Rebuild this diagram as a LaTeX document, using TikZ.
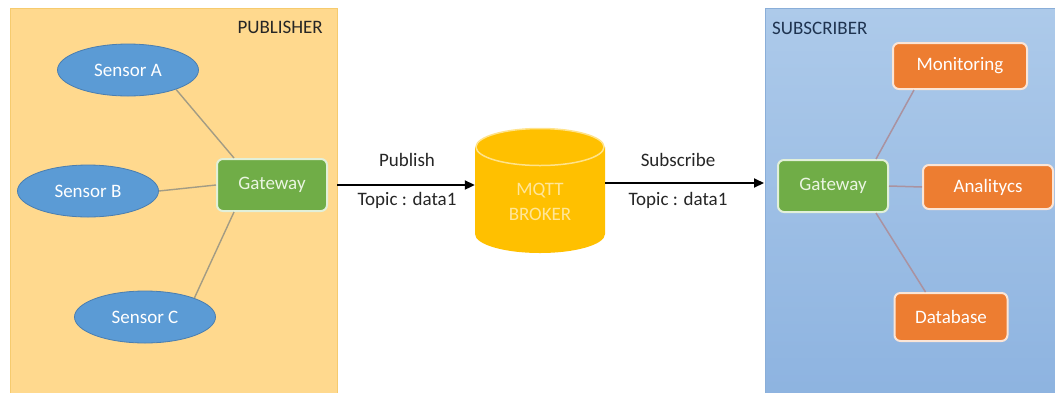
\documentclass[tikz,border=0pt]{standalone}
\usepackage{fontspec}
\setmainfont{Carlito}
\usetikzlibrary{calc,arrows.meta,shapes.geometric}

\definecolor{pubfill}{HTML}{FFD98E}
\definecolor{pubedge}{HTML}{F6CB6E}
\definecolor{subtop}{HTML}{ADCAEA}
\definecolor{subbot}{HTML}{8DB3E0}
\definecolor{subedge}{HTML}{8AAED8}
\definecolor{sensorfill}{HTML}{5B9BD5}
\definecolor{sensoredge}{HTML}{4A7EB0}
\definecolor{gwfill}{HTML}{70AD47}
\definecolor{gwedge}{HTML}{E2F0D9}
\definecolor{gwtext}{HTML}{EAF5E2}
\definecolor{appfill}{HTML}{ED7D31}
\definecolor{appedge}{HTML}{FBE5D6}
\definecolor{brokerfill}{HTML}{FFC000}
\definecolor{brokeredge}{HTML}{FFE38A}
\definecolor{brokertext}{HTML}{FFE699}
\definecolor{publink}{HTML}{A39C84}
\definecolor{sublink}{HTML}{AA92A0}
\definecolor{labeltext}{HTML}{262626}
\definecolor{subtitle}{HTML}{1F3350}

\begin{document}
\begin{tikzpicture}[x=1pt, y=-1pt,
  font=\fontsize{19}{23}\selectfont,
  sensor/.style={ellipse, fill=sensorfill, draw=sensoredge, line width=0.8pt,
    minimum width=141pt, minimum height=52pt, text=white, inner sep=0pt},
  gateway/.style={rectangle, rounded corners=6pt, fill=gwfill, draw=gwedge,
    line width=2pt, minimum width=110pt, minimum height=52pt, text=gwtext, inner sep=0pt},
  app/.style={rectangle, rounded corners=6pt, fill=appfill, draw=appedge,
    line width=2pt, minimum height=46pt, text=white, inner sep=0pt},
  toplabel/.style={text=labeltext, inner sep=0pt},
  publine/.style={draw=publink, line width=1.4pt},
  subline/.style={draw=sublink, line width=1.5pt},
  flow/.style={draw=black, line width=2pt, -{Triangle[length=10pt,width=9pt]}}]

  \useasboundingbox (0,0) rectangle (1055,392);
  \fill[white] (0,0) rectangle (1055,392);

  % publisher and subscriber areas
  \draw[fill=pubfill, draw=pubedge, line width=1pt] (10,8) rectangle (337,400);
  \shade[top color=subtop, bottom color=subbot] (765,8) rectangle (1062,400);
  \draw[draw=subedge, line width=1pt] (1062,8) -- (765,8) -- (765,400);
  \node[toplabel, anchor=east] (pubtitle) at (323,27) {PUBLISHER};
  \node[toplabel, text=subtitle, anchor=west] (subtitle) at (772,28) {SUBSCRIBER};

  % publisher side
  \node[sensor] (sa) at (128,70) {Sensor A};
  \node[sensor] (sb) at (88,191) {Sensor B};
  \node[sensor] (sc) at (145,317) {Sensor C};
  \node[gateway] (pgw) at (272,185) {Gateway};

  \draw[publine] (sa.-22) -- ($(pgw.north west)+(18,0)$);
  \draw[publine] (sb.east) -- (pgw.west);
  \draw[publine] (sc.21) -- ($(pgw.south west)+(18,0)$);

  % broker cylinder
  \fill[brokerfill] (475,147) -- (475,234)
    arc[start angle=180, end angle=0, x radius=65, y radius=19]
    -- (605,147) -- cycle;
  \draw[fill=brokerfill, draw=brokeredge, line width=1.5pt]
    (540,147) ellipse[x radius=64, y radius=18.5];
  \node[minimum width=130pt, minimum height=125pt, inner sep=0pt] (broker) at (540,190.5) {};
  \node[text=brokertext, align=center, inner sep=0pt] (brokerlabel) at (540,202)
    {MQTT\\[2pt]BROKER};

  % publish / subscribe flows
  \draw[flow, shorten <=9pt] (pgw.east) -- (pgw.east -| broker.west);
  \node[toplabel] (publbl) at (407,160) {Publish};
  \node[toplabel] (pubtopic) at (407,200) {Topic : data1};

  \node[gateway] (sgw) at (833,186) {Gateway};
  \draw[flow, shorten >=13pt] ([yshift=3pt]sgw.west -| broker.east) -- ([yshift=3pt]sgw.west);
  \node[toplabel] (sublbl) at (678,160) {Subscribe};
  \node[toplabel] (subtopic) at (678,200) {Topic : data1};

  % subscriber side
  \node[app, minimum width=134pt] (mon) at (960,66) {Monitoring};
  \node[app, minimum width=130pt, minimum height=44pt] (ana) at (988,187) {Analitycs};
  \node[app, minimum width=113pt, minimum height=48pt] (db) at (951,317) {Database};

  \draw[subline] ($(sgw.north east)+(-13,0)$) -- ($(mon.south west)+(22,0)$);
  \draw[subline] (sgw.east) -- (ana.west);
  \draw[subline] ($(sgw.south east)+(-13,0)$) -- ($(db.north west)+(32,0)$);
\end{tikzpicture}
\end{document}
